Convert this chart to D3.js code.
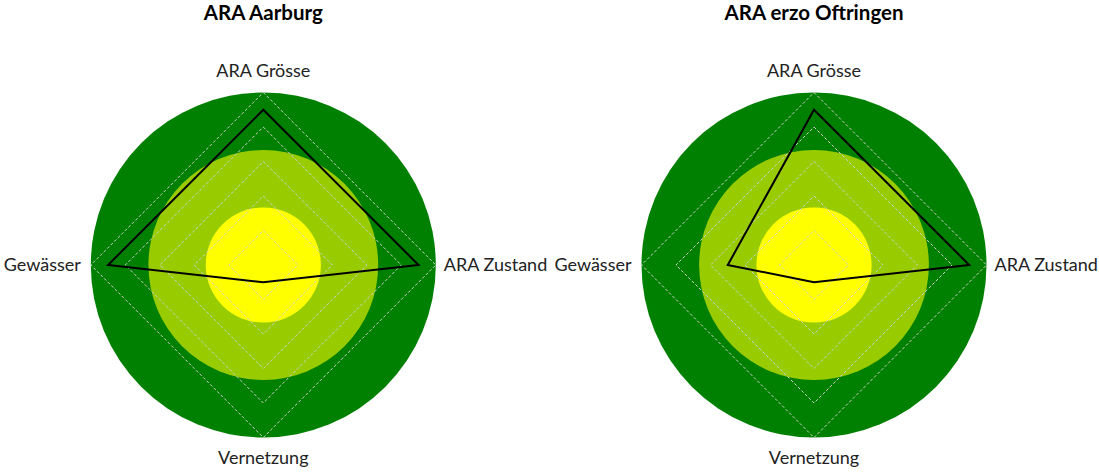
<!DOCTYPE html>
<html><head><meta charset="utf-8">
<script src="https://cdn.jsdelivr.net/npm/d3@7"></script>
<style>html,body{margin:0;padding:0;background:#fff}</style>
</head><body>
<svg id="chart" width="1099" height="473"></svg>
<script>
const categories = ["ARA Grösse", "ARA Zustand", "Vernetzung", "Gewässer"];
const titles = ["ARA Aarburg", "ARA erzo Oftringen"];
const valuesAarburg = [4.5, 4.5, 0.5, 4.5];
const valuesOftringen = [4.5, 4.5, 0.5, 2.5];
const gridTicks = [1, 2, 3, 4, 5];
const zoneLimits = [5, 3.33, 1.67];
const zoneColors = ["#008000", "#99CC00", "#FFFF00"];

const svg = d3.select("#chart");
const font = "Lato, 'Open Sans', sans-serif";
const r = d3.scaleLinear().domain([0, 5]).range([0, 172.5]);
const angle = d3.scalePoint().domain(categories).range([0, 2 * Math.PI * 3 / 4]);

const charts = [
  {title: titles[0], values: valuesAarburg, cx: 263.3, cy: 265},
  {title: titles[1], values: valuesOftringen, cx: 814, cy: 265}
];

charts.forEach(c => {
  const g = svg.append("g").attr("transform", `translate(${c.cx},${c.cy})`);
  g.append("text").attr("x", 0).attr("y", -245).attr("text-anchor", "middle")
    .attr("font-family", font).attr("font-weight", "bold").attr("font-size", 20.5)
    .attr("fill", "#000").text(c.title);
  g.selectAll("circle.zone").data(zoneLimits).join("circle").attr("class", "zone")
    .attr("r", d => r(d)).attr("fill", (d, i) => zoneColors[i]);
  const line = d3.lineRadial().angle(d => angle(d.k)).radius(d => r(d.v)).curve(d3.curveLinearClosed);
  g.selectAll("path.grid").data(gridTicks).join("path").attr("class", "grid")
    .attr("d", t => line(categories.map(k => ({k, v: t}))))
    .attr("fill", "none").attr("stroke", "#d0d0d0").attr("stroke-width", 1).attr("stroke-dasharray", "3,2");
  g.append("path").attr("d", line(categories.map((k, i) => ({k, v: c.values[i]}))))
    .attr("fill", "none").attr("stroke", "#000").attr("stroke-width", 2).attr("stroke-linejoin", "miter");
  const lab = g.selectAll("text.lab").data(categories).join("text").attr("class", "lab")
    .attr("font-family", font).attr("font-size", 18).attr("fill", "#222")
    .text(d => d);
  lab.each(function(d) {
    const a = angle(d);
    const x = Math.sin(a) * (r(5) + 8), y = -Math.cos(a) * (r(5) + 8);
    const s = d3.select(this);
    if (Math.abs(Math.sin(a)) < 0.01) {
      s.attr("x", 0).attr("text-anchor", "middle")
       .attr("y", y < 0 ? y - 8 : y + 18);
    } else {
      s.attr("x", x > 0 ? x : x - 2).attr("y", 6).attr("text-anchor", x > 0 ? "start" : "end");
    }
  });
});
</script>
</body></html>
